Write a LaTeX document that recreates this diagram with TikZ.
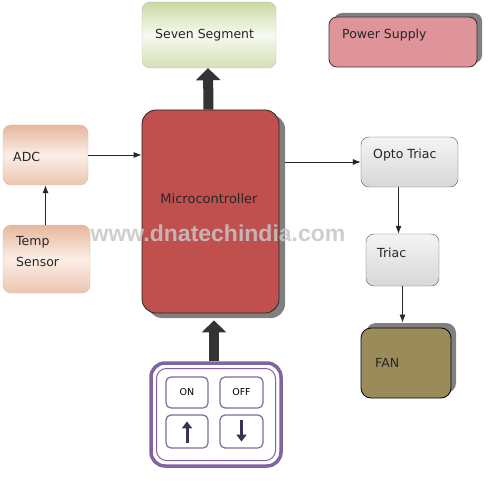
\documentclass[tikz,border=0pt]{standalone}
\usepackage{fontspec}
\setmainfont{DejaVu Sans}
\newfontfamily\wmfont{Liberation Sans}
\usetikzlibrary{arrows.meta,calc,shadows}
\definecolor{sevenG}{HTML}{C9D9A3}
\definecolor{powerF}{HTML}{DE9499}
\definecolor{microF}{HTML}{C0504D}
\definecolor{peachA}{HTML}{E6B79C}
\definecolor{peachB}{HTML}{FBEEE6}
\definecolor{greyA}{HTML}{D0D0D0}
\definecolor{greyB}{HTML}{F4F4F4}
\definecolor{fanF}{HTML}{9A8C5A}
\definecolor{shadowG}{HTML}{808080}
\definecolor{kpPurple}{HTML}{8064A2}
\definecolor{btnBorder}{HTML}{7E6C9E}
\definecolor{btnArrow}{HTML}{3D3055}
\definecolor{thickArrow}{HTML}{333333}
\tikzset{
  box/.style={draw, rounded corners=8pt, inner sep=0pt},
  txt/.style={font=\fontsize{12.5}{14}\selectfont, text=black!85, inner sep=0pt},
  thin arrow/.style={draw=black!85, line width=0.8pt, -{Latex[length=8pt,width=6pt]}},
  thick arrow/.style={draw=thickArrow, line width=10pt, -{Triangle[width=24pt,length=12pt]}},
  btn/.style={draw=btnBorder, line width=1.2pt, rounded corners=5pt, fill=white, minimum width=42pt, inner sep=0pt},
  btnarrow/.style={draw=btnArrow, line width=3pt, -{Triangle[width=10pt,length=7pt]}},
}
\begin{document}
\begin{tikzpicture}[x=1pt,y=-1pt]
\useasboundingbox (0,0) rectangle (503,481);
% Seven Segment
\node[box, draw=black!25, top color=sevenG, bottom color=sevenG!80, middle color=white!85!sevenG,
      minimum width=134pt, minimum height=66pt] (seven) at (209,35) {};
\node[txt, anchor=west] (sevent) at (155,35) {Seven Segment};
% Power supply
\node[box, draw=black!80, line width=0.8pt, fill=powerF, minimum width=148pt, minimum height=50pt,
      general shadow={fill=shadowG, shadow xshift=5pt, shadow yshift=4pt}] (power) at (403,42) {};
\node[txt, anchor=west] (powert) at (342,35) {Power Supply};
% Microcontroller
\node[box, draw=black!85, line width=0.8pt, fill=microF, rounded corners=14pt, minimum width=137pt, minimum height=203pt,
      general shadow={fill=shadowG, shadow xshift=6pt, shadow yshift=-5pt}] (micro) at (210.5,211.5) {};
\node[txt, font=\fontsize{13}{15}\selectfont] (microt) at (209,199) {Microcontroller};
% ADC and Temp sensor
\node[box, draw=peachA!80!black!60, top color=peachA, bottom color=peachA!80, middle color=peachB,
      minimum width=85pt, minimum height=60pt] (adc) at (45.5,155) {};
\node[txt, anchor=west] (adct) at (13,157) {ADC};
\node[box, draw=peachA!80!black!60, top color=peachA, bottom color=peachA!80, middle color=peachB,
      minimum width=87pt, minimum height=68pt] (temp) at (46.5,259) {};
\node[txt, anchor=west, align=left] (tempt) at (16,252) {Temp\\[7pt]Sensor};
% Opto triac, triac
\node[box, draw=black!65, top color=greyB, bottom color=greyA!85, minimum width=97pt, minimum height=50pt] (opto) at (409.5,162) {};
\node[txt, anchor=west] (optot) at (373,155) {Opto Triac};
\node[box, draw=black!65, top color=greyB, bottom color=greyA!85, minimum width=73pt, minimum height=52pt] (triac) at (402.5,260) {};
\node[txt, anchor=west] (triact) at (377,253) {Triac};
% FAN
\node[box, draw=black, line width=0.8pt, fill=fanF, rounded corners=10pt, minimum width=90pt, minimum height=70pt,
      general shadow={fill=shadowG, shadow xshift=5pt, shadow yshift=5pt}] (fan) at (406,363) {};
\node[txt, anchor=west] (fant) at (375,363) {FAN};
% Keypad
\node[draw=kpPurple, line width=3.5pt, rounded corners=14pt, fill=white, minimum width=130pt, minimum height=103pt, inner sep=0pt] (keypad) at (216,414.5) {};
\node[draw=kpPurple, line width=1pt, rounded corners=10pt, minimum width=119pt, minimum height=92pt, inner sep=0pt] (keypadin) at (216,414.5) {};
\node[btn, minimum height=31pt, font=\fontsize{9.5}{11}\selectfont] (on) at (187,392.5) {ON};
\node[btn, minimum height=31pt, minimum width=43pt, font=\fontsize{9.5}{11}\selectfont] (off) at (241.5,392.5) {OFF};
\node[btn, minimum height=33pt] (up) at (187,431.5) {};
\node[btn, minimum height=33pt, minimum width=43pt] (down) at (241.5,431.5) {};
\draw[btnarrow] ($(up.south)+(0,-6)$) -- ($(up.north)+(0,7)$);
\draw[btnarrow] ($(down.north)+(0,6)$) -- ($(down.south)+(0,-7)$);
% connectors
\draw[thick arrow] ($(micro.north)+(-2,0)$) -- ($(seven.south)+(-1,0)$);
\draw[thick arrow] ($(keypad.north)+(-2,0)$) -- ($(keypad.north |- micro.south)+(-2,7)$);
\draw[thin arrow] (temp.north -| adc.south) -- (adc.south);
\draw[thin arrow] (adc.east) -- (adc.east -| micro.west);
\draw[thin arrow] ($(micro.east |- opto.west)+(6,0)$) -- (opto.west);
\draw[thin arrow] ($(opto.south -| triac.north)+(-4,0)$) -- ($(triac.north)+(-4,0)$);
\draw[thin arrow] (triac.south) -- ($(triac.south |- fan.north)+(0,-5)$);
% watermark
\node[font=\wmfont\bfseries\fontsize{23}{25}\selectfont, text=gray!45, text opacity=0.85] (wm) at (218,233) {www.dnatechindia.com};
\end{tikzpicture}
\end{document}
